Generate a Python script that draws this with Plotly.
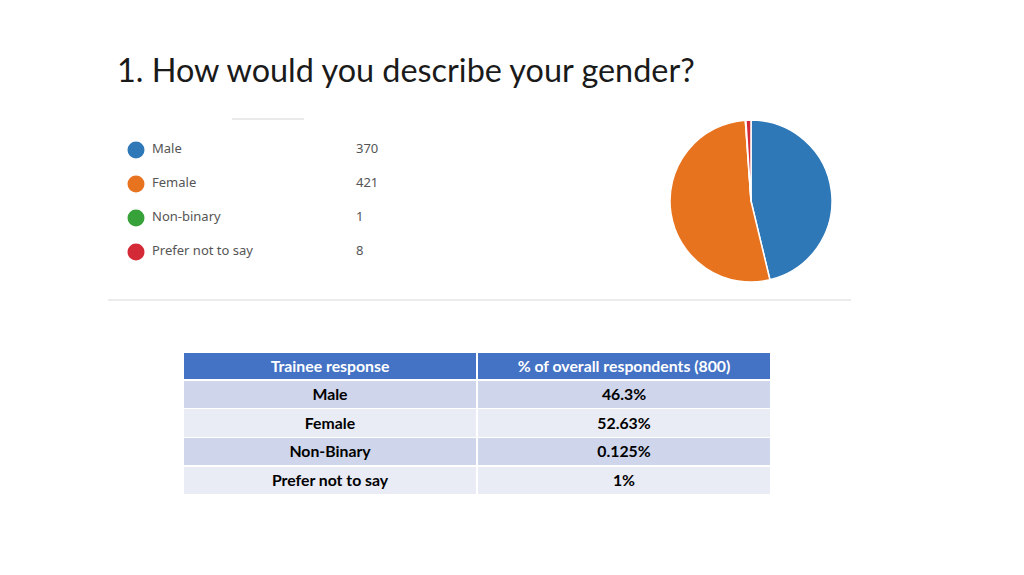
import plotly.graph_objects as go

W, H = 1024, 575

# ---- data ----
categories = ["Male", "Female", "Non-binary", "Prefer not to say"]
counts = [370, 421, 1, 8]
colors = ["#2E78B7", "#E8731F", "#37A23A", "#D42A37"]

table_header = ["Trainee response", "% of overall respondents (800)"]
table_responses = ["Male", "Female", "Non-Binary", "Prefer not to say"]
table_percents = ["46.3%", "52.63%", "0.125%", "1%"]

title_text = "1. How would you describe your gender?"

def px(x):
    return x / W

def py(y):
    return 1 - y / H

fig = go.Figure()

# Pie
fig.add_trace(go.Pie(
    labels=categories, values=counts,
    marker=dict(colors=colors, line=dict(color="white", width=1.5)),
    sort=False, direction="clockwise", rotation=0,
    textinfo="none", hoverinfo="label+value", showlegend=False,
    domain=dict(x=[px(669), px(833)], y=[py(282), py(120)]),
))

# Custom legend (pixel axes)
leg_y = [150 + 34 * i for i in range(len(categories))]
fig.add_trace(go.Scatter(
    x=[136] * len(categories), y=leg_y, mode="markers",
    marker=dict(size=17, color=colors, line=dict(width=0)),
    hoverinfo="skip", showlegend=False, xaxis="x", yaxis="y",
))
fig.add_trace(go.Scatter(
    x=[152] * len(categories), y=leg_y, mode="text", text=categories,
    textposition="middle right",
    textfont=dict(family="Noto Sans, DejaVu Sans, sans-serif", size=13, color="#555555"),
    hoverinfo="skip", showlegend=False, xaxis="x", yaxis="y",
))
fig.add_trace(go.Scatter(
    x=[356] * len(categories), y=leg_y, mode="text", text=[str(c) for c in counts],
    textposition="middle right",
    textfont=dict(family="Noto Sans, DejaVu Sans, sans-serif", size=13, color="#555555"),
    hoverinfo="skip", showlegend=False, xaxis="x", yaxis="y",
))

# Table
row_fills = ["#CFD5EA", "#E9EBF5", "#CFD5EA", "#E9EBF5"]
fig.add_trace(go.Table(
    domain=dict(x=[px(183), px(771)], y=[py(495), py(352)]),
    columnwidth=[1, 1],
    header=dict(
        values=table_header,
        fill_color="#4472C4", line=dict(color="white", width=1.5),
        font=dict(family="Lato, Carlito, sans-serif", size=15.8, color="white", weight="bold"),
        align="center", height=28,
    ),
    cells=dict(
        values=[table_responses, table_percents],
        fill_color=[row_fills, row_fills], line=dict(color="white", width=1.5),
        font=dict(family="Lato, Carlito, sans-serif", size=15.8, color="black", weight="bold"),
        align="center", height=28.7,
    ),
))

fig.update_layout(
    width=W, height=H,
    margin=dict(l=0, r=0, t=0, b=0),
    paper_bgcolor="white", plot_bgcolor="rgba(0,0,0,0)",
    xaxis=dict(range=[0, W], domain=[0, 1], visible=False, fixedrange=True),
    yaxis=dict(range=[H, 0], domain=[0, 1], visible=False, fixedrange=True),
    shapes=[
        dict(type="line", xref="paper", yref="paper", x0=px(232), x1=px(304),
             y0=py(119), y1=py(119), line=dict(color="#E3E3E3", width=1.5)),
        dict(type="line", xref="paper", yref="paper", x0=px(108), x1=px(851),
             y0=py(300), y1=py(300), line=dict(color="#E6E6E6", width=1.5)),
    ],
    annotations=[
        dict(text=title_text, xref="paper", yref="paper", x=px(115), y=py(70),
             xanchor="left", yanchor="middle", showarrow=False,
             font=dict(family="Lato, Carlito, sans-serif", size=32.4, color="#1a1a1a")),
    ],
)

fig.write_html("out.html", config={"displayModeBar": False},
               post_script="document.body.style.margin='0';document.body.style.overflow='hidden';")
